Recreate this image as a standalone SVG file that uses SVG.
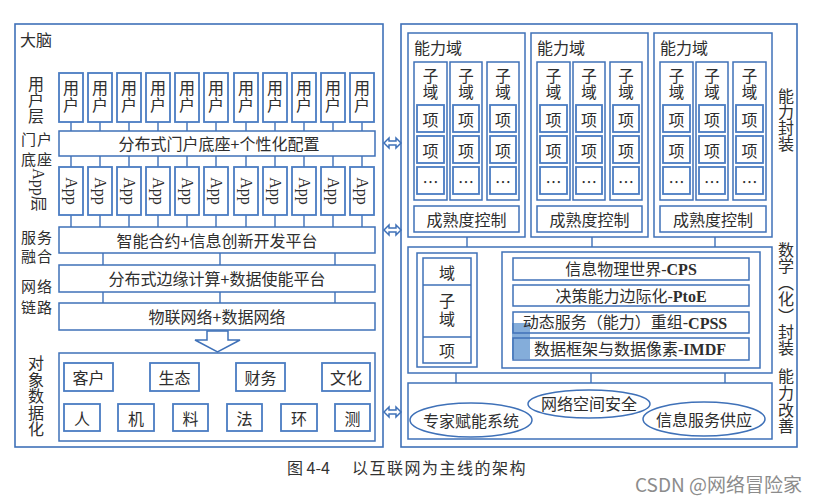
<svg xmlns="http://www.w3.org/2000/svg" width="820" height="501" viewBox="0 0 820 501">
<style>
.fr{fill:none;stroke:#3f71b8;stroke-width:1.6}
.b{fill:#fff;stroke:#3f71b8;stroke-width:1.5}
.bi{fill:#fff;stroke:#4a7cc2;stroke-width:1.8}
.ln{stroke:#3f71b8;stroke-width:1.4;fill:none}
.ar{fill:#fff;stroke:#3f71b8;stroke-width:1.5;stroke-linejoin:miter}
.t{font-family:"Liberation Serif","Noto Sans CJK SC",serif;fill:#2e2e2e;font-size:16px;text-anchor:middle;dominant-baseline:central}
.c{font-family:"Noto Sans CJK SC",sans-serif;fill:#2e2e2e;font-size:16px;text-anchor:middle;dominant-baseline:central}
.l{font-family:"Noto Sans CJK SC",sans-serif;fill:#2e2e2e;font-size:16px;dominant-baseline:central}
.ls{font-family:"Noto Sans CJK SC",sans-serif;fill:#2e2e2e;font-size:15px;letter-spacing:1px;dominant-baseline:central}
.v{font-family:"Noto Sans CJK SC",sans-serif;fill:#2e2e2e;font-size:16px;writing-mode:vertical-rl;text-anchor:start}
.u{font-family:"Noto Sans CJK SC",sans-serif;fill:#2e2e2e;font-size:16px;writing-mode:vertical-rl;text-anchor:start;letter-spacing:1px}
.z{font-family:"Noto Sans CJK SC",sans-serif;fill:#2e2e2e;font-size:15.5px;writing-mode:vertical-rl;text-anchor:start;letter-spacing:0.5px}
</style>
<rect width="820" height="501" fill="#fff"/>

<!-- frames -->
<g id="left-frame">
<rect class="fr" x="15" y="24" width="368" height="423"/>
<text class="l" x="20" y="39">大脑</text>
<text class="v" x="36" y="76">用户层</text>
<text class="ls" x="21" y="138">门户</text>
<text class="ls" x="21" y="158">底座</text>
<text class="t" transform="translate(38,190) rotate(90)">App层</text>
<text class="ls" x="21" y="236">服务</text>
<text class="ls" x="21" y="255">融合</text>
<text class="ls" x="21" y="285">网络</text>
<text class="ls" x="21" y="306">链路</text>
<text class="v" x="36" y="355" style="letter-spacing:0.6px">对象数据化</text>
</g>
<g id="right-frame">
<rect class="fr" x="401" y="24" width="396" height="423"/>
<text class="v" x="786" y="88">能力封装</text>
<text class="v" x="786" y="242" style="letter-spacing:0.4px">数学（化）封装</text>
<text class="v" x="786" y="368" style="letter-spacing:0.8px">能力改善</text>
</g>

<!-- connectors -->
<g id="connectors">
<path class="ln" d="M71,122V131M100,122V131M129,122V131M158,122V131M187,122V131M216,122V131M246,122V131M275,122V131M304,122V131M333,122V131M362,122V131"/>
<path class="ln" d="M71,156V167M100,156V167M129,156V167M158,156V167M187,156V167M216,156V167M246,156V167M275,156V167M304,156V167M333,156V167M362,156V167"/>
<path class="ln" d="M71,215V227M100,215V227M129,215V227M158,215V227M187,215V227M216,215V227M246,215V227M275,215V227M304,215V227M333,215V227M362,215V227"/>
<path class="ln" d="M103,253V265M220,253V265M335,253V265M103,292V303M220,292V303M335,292V303"/>
<path class="ln" d="M467,237V247M592,237V247M715,237V247M456,373V383M591,373V383M725,373V383"/>
<path class="ar" d="M207,331H228V340H240L217.5,352L195,340H207Z"/>
<path class="ar" d="M478,313L487,303V308H495V318H487V323Z"/>
<path class="ar" d="M384,143L389,138V141H396V138L401,143L396,148V145H389V148Z"/>
<path class="ar" d="M384,230L389,225V228H396V225L401,230L396,235V232H389V235Z"/>
<path class="ar" d="M384,412L389,407V410H396V407L401,412L396,417V414H389V417Z"/>
</g>

<!-- user boxes -->
<g id="users">
<g id="user1"><rect class="bi" x="59" y="73" width="24" height="49"/><text class="u" x="71" y="80">用户</text></g>
<g id="user2"><rect class="bi" x="88" y="73" width="24" height="49"/><text class="u" x="100" y="80">用户</text></g>
<g id="user3"><rect class="bi" x="117" y="73" width="24" height="49"/><text class="u" x="129" y="80">用户</text></g>
<g id="user4"><rect class="bi" x="146" y="73" width="24" height="49"/><text class="u" x="158" y="80">用户</text></g>
<g id="user5"><rect class="bi" x="175" y="73" width="24" height="49"/><text class="u" x="187" y="80">用户</text></g>
<g id="user6"><rect class="bi" x="204" y="73" width="24" height="49"/><text class="u" x="216" y="80">用户</text></g>
<g id="user7"><rect class="bi" x="234" y="73" width="24" height="49"/><text class="u" x="246" y="80">用户</text></g>
<g id="user8"><rect class="bi" x="263" y="73" width="24" height="49"/><text class="u" x="275" y="80">用户</text></g>
<g id="user9"><rect class="bi" x="292" y="73" width="24" height="49"/><text class="u" x="304" y="80">用户</text></g>
<g id="user10"><rect class="bi" x="321" y="73" width="24" height="49"/><text class="u" x="333" y="80">用户</text></g>
<g id="user11"><rect class="bi" x="350" y="73" width="24" height="49"/><text class="u" x="362" y="80">用户</text></g>
</g>

<g id="portal"><rect class="b" x="59" y="131" width="316" height="25"/><text class="c" x="219" y="143">分布式门户底座+个性化配置</text></g>

<g id="apps">
<g id="app1"><rect class="bi" x="59" y="167" width="24" height="48"/><text class="t" transform="translate(71,191) rotate(90)">App</text></g>
<g id="app2"><rect class="bi" x="88" y="167" width="24" height="48"/><text class="t" transform="translate(100,191) rotate(90)">App</text></g>
<g id="app3"><rect class="bi" x="117" y="167" width="24" height="48"/><text class="t" transform="translate(129,191) rotate(90)">App</text></g>
<g id="app4"><rect class="bi" x="146" y="167" width="24" height="48"/><text class="t" transform="translate(158,191) rotate(90)">App</text></g>
<g id="app5"><rect class="bi" x="175" y="167" width="24" height="48"/><text class="t" transform="translate(187,191) rotate(90)">App</text></g>
<g id="app6"><rect class="bi" x="204" y="167" width="24" height="48"/><text class="t" transform="translate(216,191) rotate(90)">App</text></g>
<g id="app7"><rect class="bi" x="234" y="167" width="24" height="48"/><text class="t" transform="translate(246,191) rotate(90)">App</text></g>
<g id="app8"><rect class="bi" x="263" y="167" width="24" height="48"/><text class="t" transform="translate(275,191) rotate(90)">App</text></g>
<g id="app9"><rect class="bi" x="292" y="167" width="24" height="48"/><text class="t" transform="translate(304,191) rotate(90)">App</text></g>
<g id="app10"><rect class="bi" x="321" y="167" width="24" height="48"/><text class="t" transform="translate(333,191) rotate(90)">App</text></g>
<g id="app11"><rect class="bi" x="350" y="167" width="24" height="48"/><text class="t" transform="translate(362,191) rotate(90)">App</text></g>
</g>

<g id="service"><rect class="b" x="59" y="227" width="316" height="26"/><text class="c" x="217" y="240">智能合约+信息创新开发平台</text></g>
<g id="edge"><rect class="b" x="59" y="265" width="316" height="27"/><text class="c" x="217" y="278">分布式边缘计算+数据使能平台</text></g>
<g id="iot"><rect class="b" x="59" y="303" width="316" height="27"/><text class="c" x="217" y="316">物联网络+数据网络</text></g>

<g id="objects">
<rect class="b" x="59" y="353" width="316" height="88"/>
<g id="o-kehu"><rect class="bi" x="64" y="363" width="49" height="28"/><text class="c" x="88.5" y="377">客户</text></g>
<g id="o-shengtai"><rect class="bi" x="150" y="363" width="49" height="28"/><text class="c" x="174.5" y="377">生态</text></g>
<g id="o-caiwu"><rect class="bi" x="236" y="363" width="49" height="28"/><text class="c" x="260.5" y="377">财务</text></g>
<g id="o-wenhua"><rect class="bi" x="322" y="363" width="48" height="28"/><text class="c" x="346" y="377">文化</text></g>
<g id="o-ren"><rect class="bi" x="64" y="404" width="36" height="27"/><text class="c" x="82" y="417.5">人</text></g>
<g id="o-ji"><rect class="bi" x="118" y="404" width="36" height="27"/><text class="c" x="136" y="417.5">机</text></g>
<g id="o-liao"><rect class="bi" x="173" y="404" width="35" height="27"/><text class="c" x="190.5" y="417.5">料</text></g>
<g id="o-fa"><rect class="bi" x="227" y="404" width="35" height="27"/><text class="c" x="244.5" y="417.5">法</text></g>
<g id="o-huan"><rect class="bi" x="281" y="404" width="36" height="27"/><text class="c" x="299" y="417.5">环</text></g>
<g id="o-ce"><rect class="bi" x="335" y="404" width="35" height="27"/><text class="c" x="352.5" y="417.5">测</text></g>
</g>

<!-- capability domains -->
<g id="domain1">
<rect class="b" x="408" y="33" width="117" height="204"/>
<text class="l" x="414" y="47">能力域</text>
<rect class="b" x="414" y="62" width="33" height="138"/><text class="z" x="430.5" y="68">子域</text>
<rect class="bi" x="417" y="105" width="27" height="27"/><text class="c" x="430.5" y="118.5">项</text>
<rect class="bi" x="417" y="136" width="27" height="27"/><text class="c" x="430.5" y="149.5">项</text>
<rect class="bi" x="417" y="167" width="27" height="27"/><text class="c" x="430.5" y="180.5">…</text>
<rect class="b" x="450" y="62" width="32" height="138"/><text class="z" x="466" y="68">子域</text>
<rect class="bi" x="453" y="105" width="26" height="27"/><text class="c" x="466" y="118.5">项</text>
<rect class="bi" x="453" y="136" width="26" height="27"/><text class="c" x="466" y="149.5">项</text>
<rect class="bi" x="453" y="167" width="26" height="27"/><text class="c" x="466" y="180.5">…</text>
<rect class="b" x="487" y="62" width="32" height="138"/><text class="z" x="503" y="68">子域</text>
<rect class="bi" x="490" y="105" width="26" height="27"/><text class="c" x="503" y="118.5">项</text>
<rect class="bi" x="490" y="136" width="26" height="27"/><text class="c" x="503" y="149.5">项</text>
<rect class="bi" x="490" y="167" width="26" height="27"/><text class="c" x="503" y="180.5">…</text>
<rect class="b" x="414" y="206" width="105" height="26"/><text class="c" x="466.5" y="219">成熟度控制</text>
</g>
<g id="domain2">
<rect class="b" x="531" y="33" width="117" height="204"/>
<text class="l" x="537" y="47">能力域</text>
<rect class="b" x="537" y="62" width="33" height="138"/><text class="z" x="553.5" y="68">子域</text>
<rect class="bi" x="540" y="105" width="27" height="27"/><text class="c" x="553.5" y="118.5">项</text>
<rect class="bi" x="540" y="136" width="27" height="27"/><text class="c" x="553.5" y="149.5">项</text>
<rect class="bi" x="540" y="167" width="27" height="27"/><text class="c" x="553.5" y="180.5">…</text>
<rect class="b" x="573" y="62" width="32" height="138"/><text class="z" x="589" y="68">子域</text>
<rect class="bi" x="576" y="105" width="26" height="27"/><text class="c" x="589" y="118.5">项</text>
<rect class="bi" x="576" y="136" width="26" height="27"/><text class="c" x="589" y="149.5">项</text>
<rect class="bi" x="576" y="167" width="26" height="27"/><text class="c" x="589" y="180.5">…</text>
<rect class="b" x="610" y="62" width="32" height="138"/><text class="z" x="626" y="68">子域</text>
<rect class="bi" x="613" y="105" width="26" height="27"/><text class="c" x="626" y="118.5">项</text>
<rect class="bi" x="613" y="136" width="26" height="27"/><text class="c" x="626" y="149.5">项</text>
<rect class="bi" x="613" y="167" width="26" height="27"/><text class="c" x="626" y="180.5">…</text>
<rect class="b" x="537" y="206" width="105" height="26"/><text class="c" x="589.5" y="219">成熟度控制</text>
</g>
<g id="domain3">
<rect class="b" x="654" y="33" width="118" height="204"/>
<text class="l" x="660" y="47">能力域</text>
<rect class="b" x="660" y="62" width="33" height="138"/><text class="z" x="676.5" y="68">子域</text>
<rect class="bi" x="663" y="105" width="27" height="27"/><text class="c" x="676.5" y="118.5">项</text>
<rect class="bi" x="663" y="136" width="27" height="27"/><text class="c" x="676.5" y="149.5">项</text>
<rect class="bi" x="663" y="167" width="27" height="27"/><text class="c" x="676.5" y="180.5">…</text>
<rect class="b" x="696" y="62" width="32" height="138"/><text class="z" x="712" y="68">子域</text>
<rect class="bi" x="699" y="105" width="26" height="27"/><text class="c" x="712" y="118.5">项</text>
<rect class="bi" x="699" y="136" width="26" height="27"/><text class="c" x="712" y="149.5">项</text>
<rect class="bi" x="699" y="167" width="26" height="27"/><text class="c" x="712" y="180.5">…</text>
<rect class="b" x="733" y="62" width="33" height="138"/><text class="z" x="749.5" y="68">子域</text>
<rect class="bi" x="736" y="105" width="27" height="27"/><text class="c" x="749.5" y="118.5">项</text>
<rect class="bi" x="736" y="136" width="27" height="27"/><text class="c" x="749.5" y="149.5">项</text>
<rect class="bi" x="736" y="167" width="27" height="27"/><text class="c" x="749.5" y="180.5">…</text>
<rect class="b" x="660" y="206" width="106" height="26"/><text class="c" x="713" y="219">成熟度控制</text>
</g>

<!-- mathematical encapsulation -->
<g id="math-encap">
<rect class="b" x="408" y="247" width="364" height="126"/>
<g id="hierarchy">
<rect class="b" x="417" y="253" width="60" height="114"/>
<rect class="b" x="423" y="258" width="48" height="105"/>
<path class="ln" d="M423,285H471M423,337H471"/>
<text class="c" x="447" y="271.5">域</text>
<text class="v" x="447" y="293" style="letter-spacing:2px">子域</text>
<text class="c" x="447" y="350">项</text>
</g>
<g id="models">
<rect class="b" x="502" y="252" width="258" height="116"/>
<rect x="512" y="323" width="18" height="36" fill="#6f9fd3" opacity="0.85"/>
<rect class="b" x="513" y="258" width="236" height="22" fill-opacity="0"/>
<rect class="b" x="513" y="285" width="236" height="21" fill-opacity="0"/>
<rect class="b" x="513" y="312" width="236" height="21" fill-opacity="0"/>
<rect class="b" x="513" y="338" width="236" height="22" fill-opacity="0"/>
<text class="t" x="631" y="269">信息物理世界-<tspan font-weight="bold">CPS</tspan></text>
<text class="t" x="631" y="296">决策能力边际化-<tspan font-weight="bold">PtoE</tspan></text>
<text class="t" x="625" y="322.5">动态服务（能力）重组-<tspan font-weight="bold">CPSS</tspan></text>
<text class="t" x="630" y="349">数据框架与数据像素-<tspan font-weight="bold">IMDF</tspan></text>
</g>
</g>

<!-- improvement -->
<g id="improve">
<rect class="b" x="408" y="383" width="364" height="56"/>
<g id="expert"><ellipse class="b" cx="471" cy="420" rx="61" ry="17"/><text class="c" x="471" y="420">专家赋能系统</text></g>
<g id="cyber"><ellipse class="b" cx="589" cy="404" rx="61" ry="14"/><text class="c" x="589" y="403">网络空间安全</text></g>
<g id="infosupply"><ellipse class="b" cx="704" cy="419" rx="61" ry="17"/><text class="c" x="704" y="419">信息服务供应</text></g>
</g>

<g id="caption">
<text class="l" x="287" y="467" style="font-size:16px;fill:#333">图 4-4</text>
<text class="l" x="352" y="467" style="font-size:16px;letter-spacing:1.5px;fill:#333">以互联网为主线的架构</text>
<text class="l" x="635" y="483" style="font-size:19px;fill:#8c8c8c">CSDN @网络冒险家</text>
</g>
</svg>
